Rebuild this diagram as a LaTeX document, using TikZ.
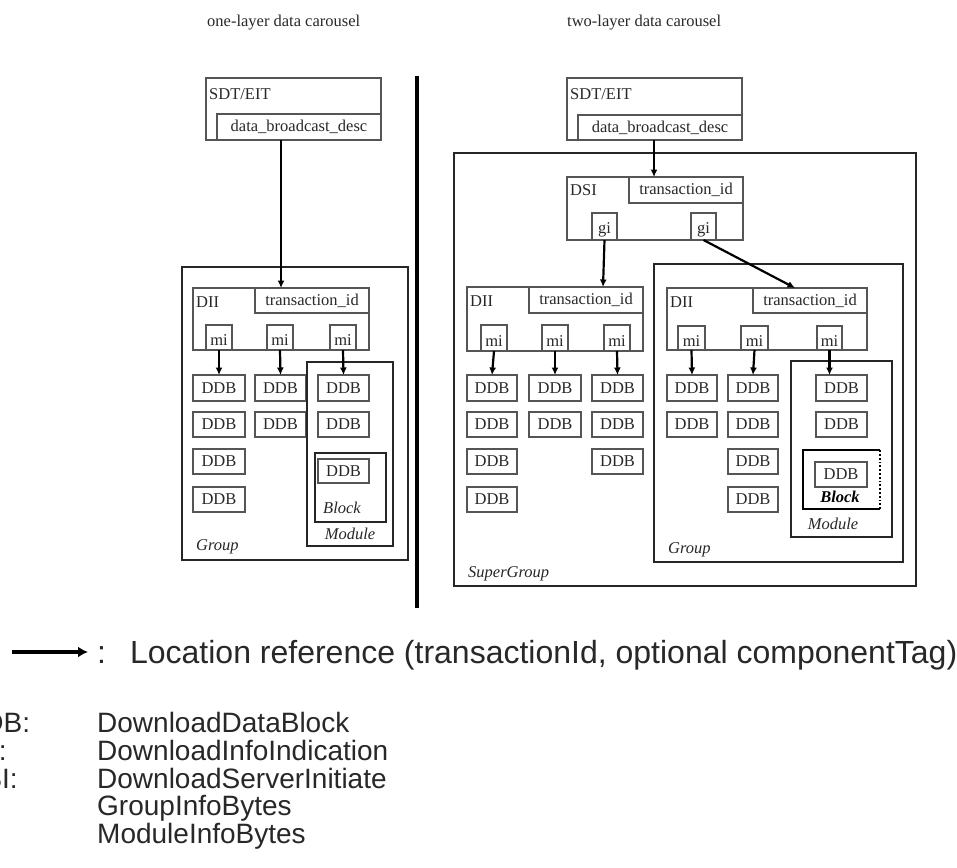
\documentclass[tikz,border=0pt]{standalone}
\usepackage{fontspec}
\setmainfont{Liberation Serif}
\newfontfamily\legfont{Liberation Sans}
\usetikzlibrary{arrows.meta,calc}
\definecolor{boxc}{RGB}{85,85,85}
\definecolor{txtc}{RGB}{40,40,40}
\newcommand\bx[7][]{\node[boxst,anchor=north west,minimum width={(#4-#2)*1pt},minimum height={(#5-#3)*1pt},#1] (#6) at (#2,#3) {#7};}
\newcommand\lowtxt[1]{\raisebox{-3pt}[\height][\depth]{#1}}
\begin{document}
\begin{tikzpicture}[x=1pt,y=-1pt,
  boxst/.style={draw=boxc,line width=1.5pt,inner sep=0pt,outer sep=0pt,text=txtc,font=\fontsize{16.5}{18}\selectfont},
  bigbox/.style={draw=black!85,line width=2pt},
  lbl/.style={inner sep=0pt,text=txtc,font=\fontsize{16.5}{18}\selectfont},
  ilbl/.style={inner sep=0pt,text=txtc,font=\fontsize{16.5}{18}\selectfont\itshape},
  arr/.style={draw=black,line width=2.2pt,-{Latex[length=7.5pt,width=7pt]}},
  legtxt/.style={inner sep=0pt,text=txtc,font=\legfont\fontsize{28}{32}\selectfont},
]
\useasboundingbox (0,0) rectangle (957,867);
\fill[white] (0,0) rectangle (957,867);
\begin{scope}
\clip (0,0) rectangle (957,867);
% titles
\node[lbl,anchor=base west] (t1) at (207,27) {one-layer data carousel};
\node[lbl,anchor=base west] (t2) at (567,27) {two-layer data carousel};

% ---------------- left panel ----------------
\bx{206}{78}{381}{140}{lsdt}{}
\bx{217}{114}{381}{140}{ldbd}{data\_broadcast\_desc}
\node[lbl,anchor=west] (lsdtl) at (209,94) {SDT/EIT};

\bx[bigbox]{182}{267}{408}{560}{lgrp}{}
\node[ilbl,anchor=west] (lgrpl) at (196,547) {Group};
\bx{193}{288}{369}{350}{ldii}{}
\bx{255}{288}{369}{313}{ltid}{transaction\_id}
\node[lbl,anchor=west] (ldiil) at (196,302) {DII};
\bx{206}{325}{232}{350}{lmi1}{\lowtxt{mi}}
\bx{267}{325}{293}{350}{lmi2}{\lowtxt{mi}}
\bx{330}{325}{356}{350}{lmi3}{\lowtxt{mi}}

\bx{193}{375}{245}{401}{la1}{DDB}
\bx{193}{412}{245}{437}{la2}{DDB}
\bx{193}{449}{245}{474}{la3}{DDB}
\bx{193}{487}{245}{512}{la4}{DDB}
\bx{255}{375}{306}{401}{lb1}{DDB}
\bx{255}{412}{306}{437}{lb2}{DDB}

\bx[bigbox]{307}{362}{393}{546}{lmod}{}
\node[ilbl] (lmodl) at (350,534) {Module};
\bx{318}{375}{369}{401}{lc1}{DDB}
\bx{318}{412}{369}{437}{lc2}{DDB}
\bx[bigbox]{315}{453}{386}{522}{lblk}{}
\bx{318}{459}{369}{483}{lc3}{DDB}
\node[ilbl] (lblkl) at (342,508) {Block};

\draw[arr] ([xshift=-18pt]ldbd.south) -- ([xshift=-31pt]ltid.north);
\draw[arr] (lmi1.south) -- (la1.north);
\draw[arr] (lmi2.south) -- (lb1.north);
\draw[arr] (lmi3.south) -- (lc1.north);

% divider
\coordinate (dv1) at (417,76);
\coordinate (dv2) at (417,608);
\draw[line width=4pt,black] (dv1) -- (dv2);

% ---------------- right panel ----------------
\bx{567}{78}{742}{140}{rsdt}{}
\bx{578}{115}{742}{140}{rdbd}{data\_broadcast\_desc}
\node[lbl,anchor=west] (rsdtl) at (570,94) {SDT/EIT};

\bx[bigbox]{454}{153}{916}{586}{rsg}{}
\node[ilbl,anchor=west] (rsgl) at (468,574) {SuperGroup};

\bx{567}{177}{743}{240}{rdsi}{}
\bx{629}{177}{743}{203}{rdtid}{transaction\_id}
\node[lbl,anchor=west] (rdsil) at (570,190) {DSI};
\bx{592}{213}{617}{240}{rgi1}{\lowtxt{gi}}
\bx{691}{213}{716}{240}{rgi2}{\lowtxt{gi}}

% left group (inside SuperGroup)
\bx{467}{287}{643}{351}{pdii}{}
\bx{529}{287}{643}{313}{ptid}{transaction\_id}
\node[lbl,anchor=west] (pdiil) at (470,301) {DII};
\bx{481}{325}{507}{351}{pmi1}{\lowtxt{mi}}
\bx{542}{325}{568}{351}{pmi2}{\lowtxt{mi}}
\bx{604}{325}{630}{351}{pmi3}{\lowtxt{mi}}
\bx{467}{375}{517}{401}{pa1}{DDB}
\bx{467}{412}{517}{437}{pa2}{DDB}
\bx{467}{449}{517}{474}{pa3}{DDB}
\bx{467}{487}{517}{512}{pa4}{DDB}
\bx{529}{375}{581}{401}{pb1}{DDB}
\bx{529}{412}{581}{437}{pb2}{DDB}
\bx{592}{375}{643}{401}{pc1}{DDB}
\bx{592}{412}{643}{437}{pc2}{DDB}
\bx{592}{449}{643}{474}{pc3}{DDB}

% right group
\bx[bigbox]{654}{264}{903}{562}{qgrp}{}
\node[ilbl,anchor=west] (qgrpl) at (668,550) {Group};
\bx{667}{288}{867}{350}{qdii}{}
\bx{753}{288}{867}{313}{qtid}{transaction\_id}
\node[lbl,anchor=west] (qdiil) at (670,302) {DII};
\bx{678}{326}{705}{350}{qmi1}{\lowtxt{mi}}
\bx{741}{326}{768}{350}{qmi2}{\lowtxt{mi}}
\bx{817}{326}{842}{350}{qmi3}{\lowtxt{mi}}
\bx{667}{375}{717}{401}{qa1}{DDB}
\bx{667}{412}{717}{437}{qa2}{DDB}
\bx{728}{375}{778}{401}{qb1}{DDB}
\bx{728}{412}{778}{437}{qb2}{DDB}
\bx{728}{449}{778}{474}{qb3}{DDB}
\bx{728}{487}{778}{512}{qb4}{DDB}
\bx[bigbox]{791}{361}{892}{537}{qmod}{}
\node[ilbl] (qmodl) at (833,524) {Module};
\bx{816}{375}{867}{401}{qc1}{DDB}
\bx{816}{412}{867}{437}{qc2}{DDB}
\bx[draw=none]{803}{450}{880}{509}{qblk}{}
\draw[black,line width=2.2pt] (qblk.north east) -- (qblk.north west) -- (qblk.south west) -- (qblk.south east);
\draw[black,line width=1.8pt,dotted] (qblk.south east) -- (qblk.north east);
\bx{815}{462}{867}{487}{qc3}{DDB}
\node[inner sep=0pt,text=black,font=\fontsize{16.5}{18}\selectfont\bfseries\itshape] (qblkl) at (840,497) {Block};

\draw[arr] ([xshift=-6pt]rdbd.south) -- ([xshift=-32pt]rdtid.north);
\draw[arr] (rgi1.south) -- ([xshift=17pt]ptid.north);
\draw[arr] (rgi2.south) -- ([xshift=-15pt]qtid.north);
\draw[arr] (pmi1.south) -- (pa1.north);
\draw[arr] (pmi2.south) -- (pb1.north);
\draw[arr] (pmi3.south) -- (pc1.north);
\draw[arr] (qmi1.south) -- (qa1.north);
\draw[arr] (qmi2.south) -- (qb1.north);
\draw[arr] (qmi3.south) -- ([xshift=-12pt]qc1.north);

% ---------------- legend ----------------
\coordinate (lg1) at (12,652);
\coordinate (lg2) at (88,652);
\draw[draw=black,line width=3.6pt,-{Latex[length=10pt,width=11pt]}] (lg1) -- (lg2);
\node[inner sep=0pt,anchor=base west,text=txtc,font=\legfont\fontsize{32}{36}\selectfont] (loc) at (97,663) {:\hspace{24pt}Location reference (transactionId, optional componentTag)};

\node[legtxt,anchor=base west] (k1) at (-37,732) {DDB:};
\node[legtxt,anchor=base west] (k2) at (-37,760) {DII:};
\node[legtxt,anchor=base west] (k3) at (-37,788) {DSI:};
\node[legtxt,anchor=base west] (k4) at (-37,815) {gi:};
\node[legtxt,anchor=base west] (k5) at (-37,843) {mi:};
\node[legtxt,anchor=base west] (v1) at (97,732) {DownloadDataBlock};
\node[legtxt,anchor=base west] (v2) at (97,760) {DownloadInfoIndication};
\node[legtxt,anchor=base west] (v3) at (97,788) {DownloadServerInitiate};
\node[legtxt,anchor=base west] (v4) at (97,815) {GroupInfoBytes};
\node[legtxt,anchor=base west] (v5) at (97,843) {ModuleInfoBytes};
\end{scope}
\end{tikzpicture}
\end{document}
